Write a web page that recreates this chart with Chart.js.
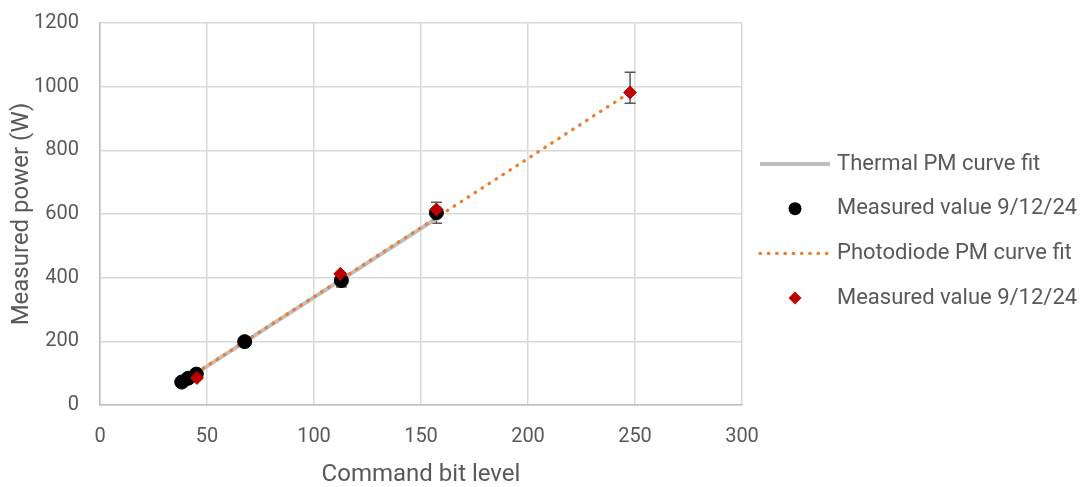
<!DOCTYPE html>
<html>
<head>
<meta charset="utf-8">
<title>Measured power vs command bit level</title>
<script src="https://cdn.jsdelivr.net/npm/chart.js@4/dist/chart.umd.min.js"></script>
<style>
  html, body { margin: 0; padding: 0; background: #ffffff; }
  #wrap { width: 1082px; height: 487px; }
</style>
</head>
<body>
<div id="wrap"><canvas id="chart" width="1082" height="487"></canvas></div>
<script>
// Thermal power meter: measured points and linear fit
const thermalX = [38.2, 41.2, 45.0, 67.6, 112.8, 157.2];
const thermalY = [72, 84, 97, 199, 391, 604];
const thermalErrMinus = [4, 4, 5, 10, 20, 33];
const thermalErrPlus  = [4, 4, 5, 10, 20, 33];
const thermalFitX = [45.0, 157.2];
const thermalFitY = [100, 586];

// Photodiode power meter: measured points and linear fit
const photoX = [45.3, 112.3, 157.2, 247.7];
const photoY = [85, 412, 614, 982];
const photoErrMinus = [0, 0, 0, 34];
const photoErrPlus  = [0, 0, 0, 63];
const photoFitX = [45.0, 247.7];
const photoFitY = [101, 982];

// Axis ticks and labels
const xTicks = [0, 50, 100, 150, 200, 250, 300];
const yTicks = [0, 200, 400, 600, 800, 1000, 1200];
const seriesLabels = ['Thermal PM curve fit', 'Measured value 9/12/24', 'Photodiode PM curve fit', 'Measured value 9/12/24'];
const xTitle = 'Command bit level';
const yTitle = 'Measured power (W)';

const FONT = 'Roboto, "Open Sans", "Liberation Sans", sans-serif';
const TEXT = '#595959';
const GRID = '#d9d9d9';

const toPoints = (xs, ys) => xs.map((x, i) => ({ x: x, y: ys[i] }));

// Vertical error bars with caps, drawn underneath the markers
const errorBarPlugin = {
  id: 'errorBars',
  beforeDatasetsDraw(chart) {
    const ctx = chart.ctx;
    const yScale = chart.scales.y;
    ctx.save();
    ctx.strokeStyle = '#595959';
    ctx.lineWidth = 1.5;
    chart.data.datasets.forEach((ds, i) => {
      if (!ds.errorBars) return;
      const meta = chart.getDatasetMeta(i);
      ds.data.forEach((p, j) => {
        const minus = ds.errorBars.minus[j];
        const plus = ds.errorBars.plus[j];
        if (!minus && !plus) return;
        const x = meta.data[j].x;
        const yTop = yScale.getPixelForValue(p.y + plus);
        const yBot = yScale.getPixelForValue(p.y - minus);
        const cap = 5.5;
        ctx.beginPath();
        ctx.moveTo(x, yTop); ctx.lineTo(x, yBot);
        ctx.moveTo(x - cap, yTop); ctx.lineTo(x + cap, yTop);
        ctx.moveTo(x - cap, yBot); ctx.lineTo(x + cap, yBot);
        ctx.stroke();
      });
    });
    ctx.restore();
  }
};

// Legend at the right side, one row per dataset
const sideLegendPlugin = {
  id: 'sideLegend',
  afterDraw(chart) {
    const ctx = chart.ctx;
    const x0 = 760, x1 = 830, xm = 795, textX = 837;
    const rowTop = 164, rowGap = 44.7;
    ctx.save();
    chart.data.datasets.forEach((ds, i) => {
      const y = rowTop + i * rowGap;
      if (ds.showLine) {
        ctx.beginPath();
        ctx.strokeStyle = ds.borderColor;
        ctx.lineWidth = ds.borderWidth;
        ctx.lineCap = ds.borderCapStyle || 'butt';
        ctx.setLineDash(ds.borderDash || []);
        ctx.moveTo(x0, y);
        ctx.lineTo(x1, y);
        ctx.stroke();
        ctx.setLineDash([]);
      } else {
        ctx.fillStyle = ds.backgroundColor;
        ctx.beginPath();
        if (ds.pointStyle === 'rectRot') {
          const r = ds.pointRadius;
          ctx.moveTo(xm, y - r); ctx.lineTo(xm + r, y);
          ctx.lineTo(xm, y + r); ctx.lineTo(xm - r, y);
          ctx.closePath();
        } else {
          ctx.arc(xm, y, 6.5, 0, Math.PI * 2);
        }
        ctx.fill();
      }
      ctx.fillStyle = TEXT;
      ctx.font = '22px ' + FONT;
      ctx.textAlign = 'left';
      ctx.textBaseline = 'middle';
      ctx.fillText(ds.label, textX, y);
    });
    ctx.restore();
  }
};

new Chart(document.getElementById('chart'), {
  type: 'scatter',
  data: {
    datasets: [
      {
        label: seriesLabels[0],
        data: toPoints(thermalFitX, thermalFitY),
        showLine: true,
        borderColor: '#bfbfbf',
        backgroundColor: '#bfbfbf',
        borderWidth: 4,
        pointRadius: 0,
        order: 3
      },
      {
        label: seriesLabels[1],
        data: toPoints(thermalX, thermalY),
        showLine: false,
        pointStyle: 'circle',
        pointRadius: 7,
        backgroundColor: '#000000',
        borderColor: '#000000',
        borderWidth: 1,
        errorBars: { minus: thermalErrMinus, plus: thermalErrPlus },
        order: 1
      },
      {
        label: seriesLabels[2],
        data: toPoints(photoFitX, photoFitY),
        showLine: true,
        borderColor: '#ed7d31',
        backgroundColor: '#ed7d31',
        borderWidth: 3.3,
        borderDash: [0.5, 7.8],
        borderCapStyle: 'round',
        pointRadius: 0,
        order: 2
      },
      {
        label: seriesLabels[3],
        data: toPoints(photoX, photoY),
        showLine: false,
        pointStyle: 'rectRot',
        pointRadius: 6.5,
        backgroundColor: '#c00000',
        borderColor: '#c00000',
        borderWidth: 1,
        errorBars: { minus: photoErrMinus, plus: photoErrPlus },
        order: 0
      }
    ]
  },
  options: {
    responsive: false,
    animation: false,
    devicePixelRatio: 1,
    layout: { padding: { top: 23, right: 340, bottom: 0, left: 0 } },
    plugins: {
      legend: { display: false },
      tooltip: { enabled: false }
    },
    scales: {
      x: {
        type: 'linear',
        min: xTicks[0],
        max: xTicks[xTicks.length - 1],
        afterBuildTicks: (s) => { s.ticks = xTicks.map(v => ({ value: v })); },
        afterFit: (s) => { s.height = 82; s.paddingLeft = 0; s.paddingRight = 0; },
        ticks: { color: TEXT, padding: 20, font: { family: FONT, size: 20 }, callback: (v) => String(v) },
        grid: { color: GRID, lineWidth: 1.5, drawTicks: false },
        border: { color: '#bfbfbf', width: 1.5 },
        title: {
          display: true, text: xTitle, color: TEXT,
          font: { family: FONT, size: 24, lineHeight: 1 },
          padding: { top: 0, bottom: 0 }
        }
      },
      y: {
        type: 'linear',
        min: yTicks[0],
        max: yTicks[yTicks.length - 1],
        afterBuildTicks: (s) => { s.ticks = yTicks.map(v => ({ value: v })); },
        afterFit: (s) => { s.width = 100; s.paddingTop = 0; s.paddingBottom = 0; },
        ticks: { color: TEXT, padding: 21, font: { family: FONT, size: 20 }, callback: (v) => String(v) },
        grid: { color: GRID, lineWidth: 1.5, drawTicks: false },
        border: { color: '#bfbfbf', width: 1.5 },
        title: {
          display: true, text: yTitle, color: TEXT,
          font: { family: FONT, size: 24, lineHeight: 1 },
          padding: { top: 10, bottom: 0 }
        }
      }
    }
  },
  plugins: [errorBarPlugin, sideLegendPlugin]
});
</script>
</body>
</html>
